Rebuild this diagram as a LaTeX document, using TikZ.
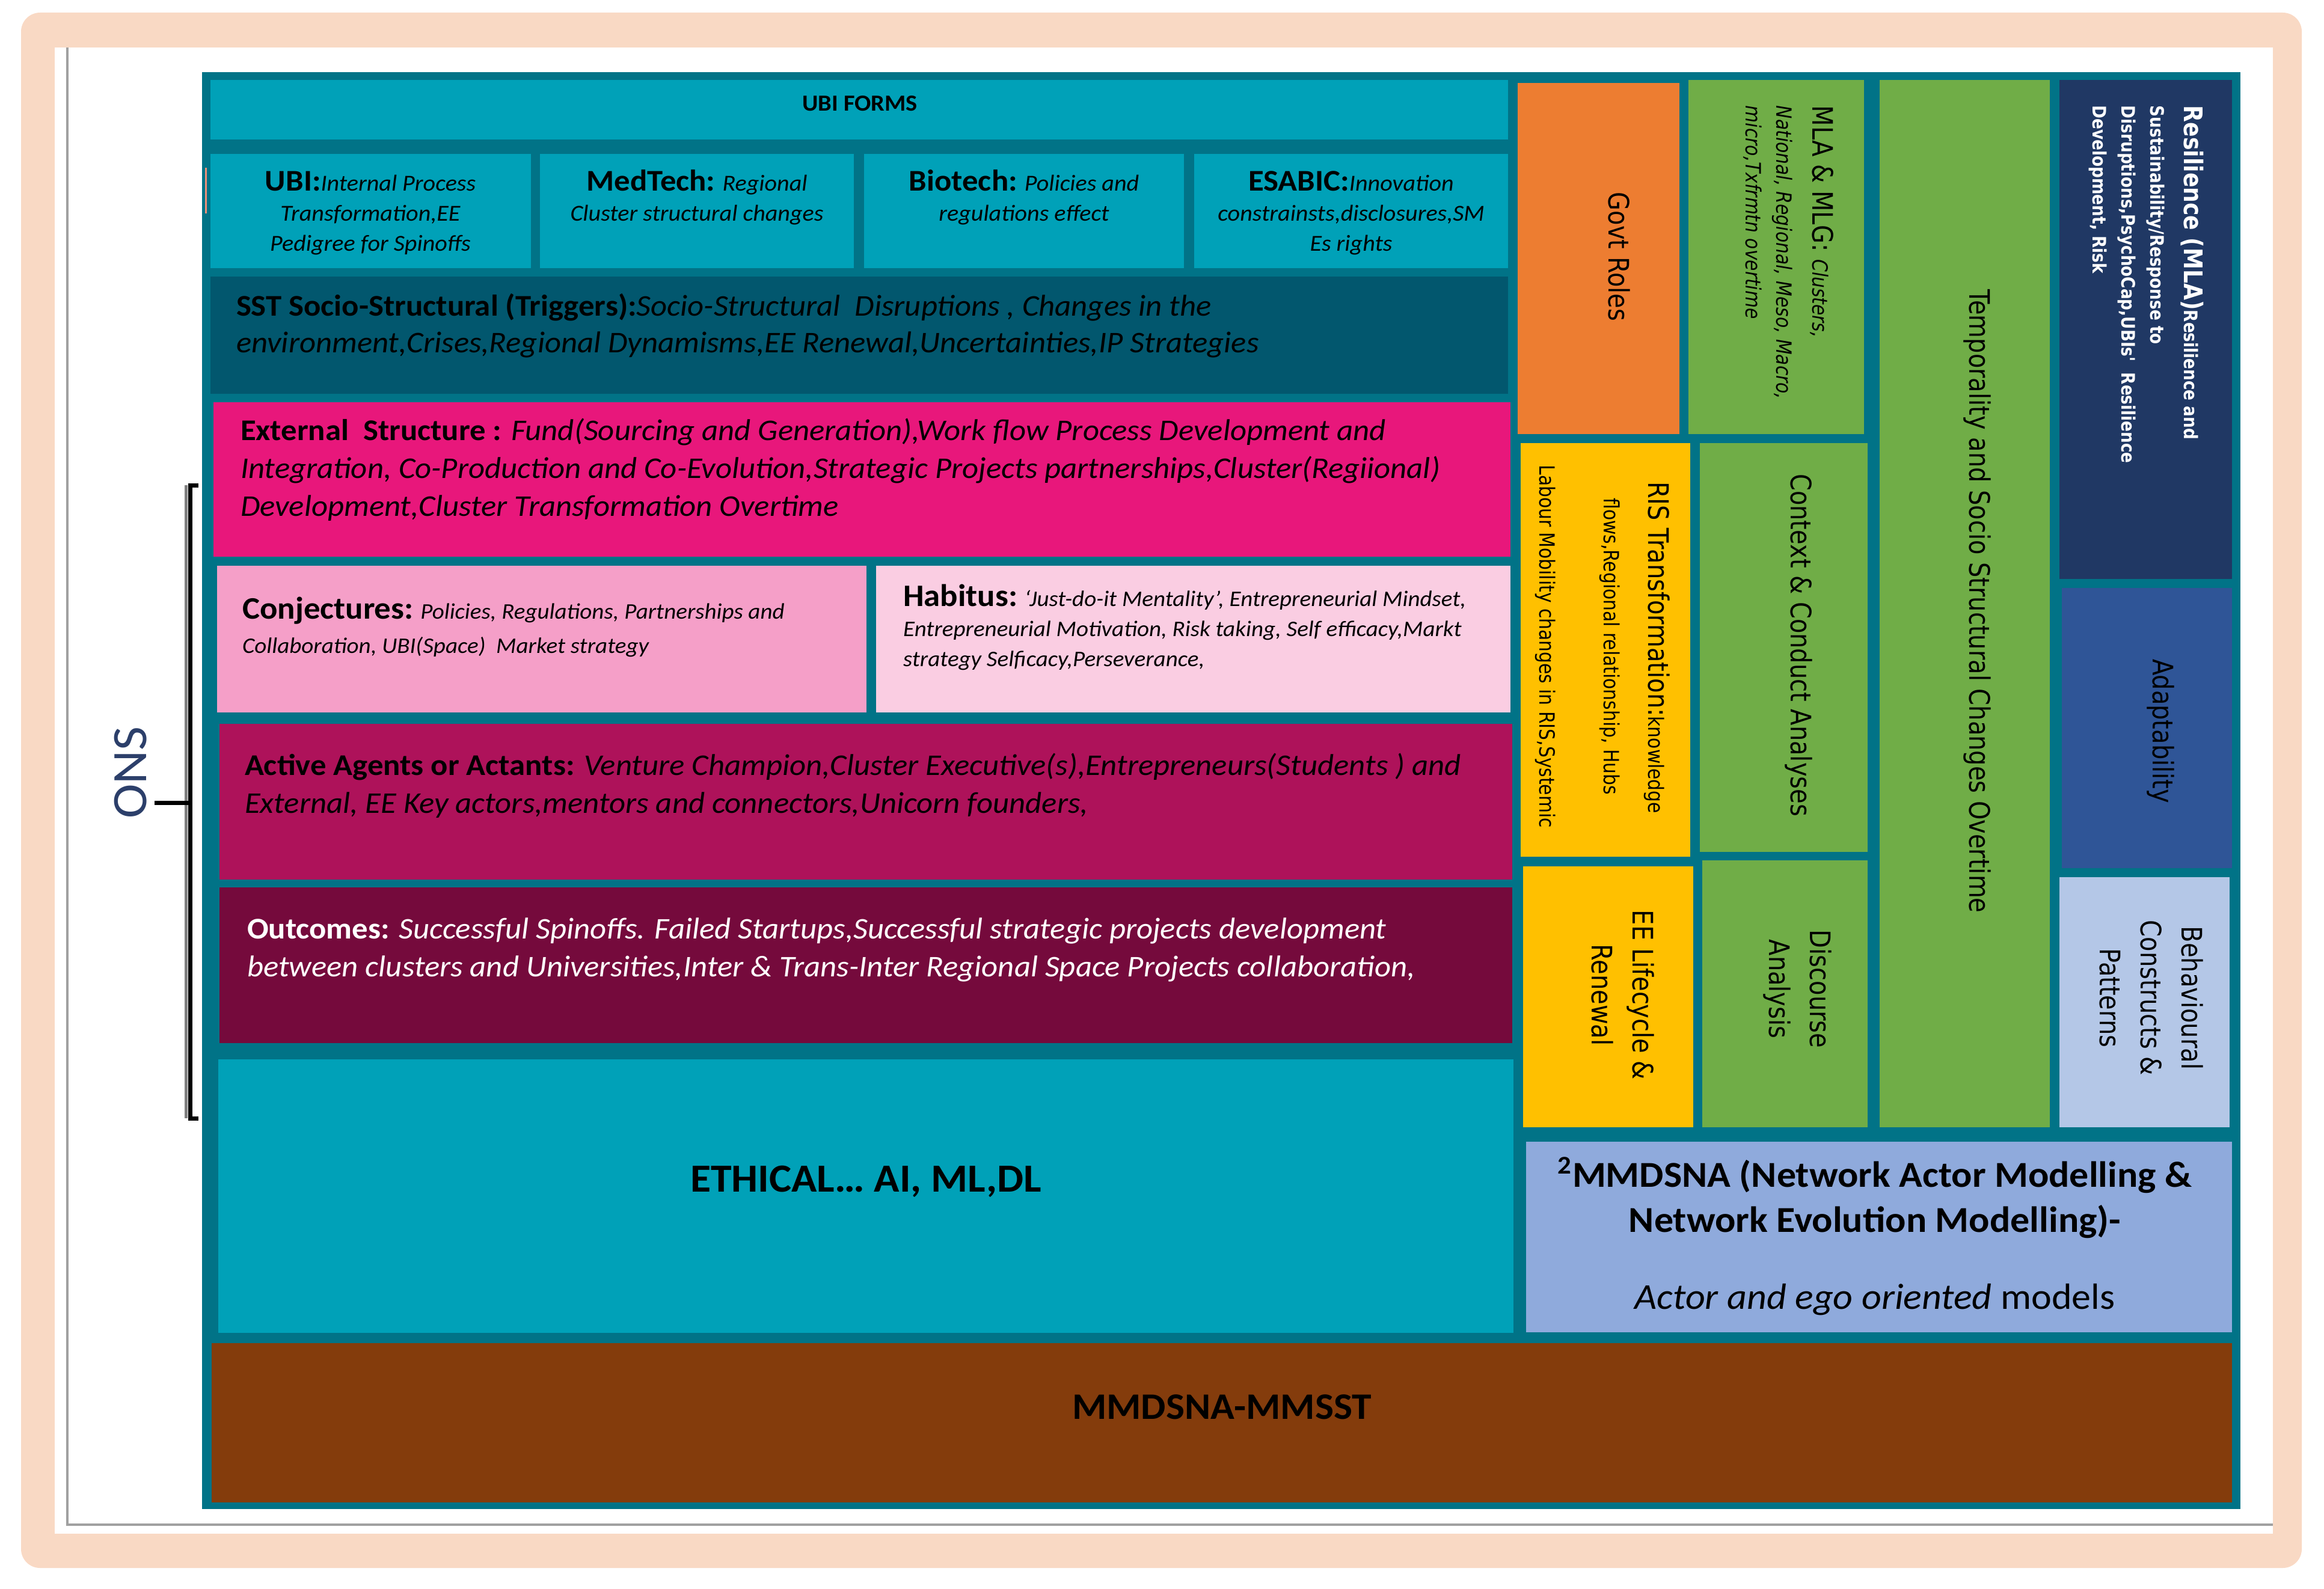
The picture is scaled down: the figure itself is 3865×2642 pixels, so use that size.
\documentclass[tikz,border=0pt]{standalone}
\usepackage{fontspec}
\setmainfont{Carlito}[FakeStretch=1.055]
\newfontfamily\rf[FakeStretch=0.85]{DejaVu Sans}
\definecolor{peach}{HTML}{F9D9C4}
\definecolor{tealbd}{HTML}{017387}
\definecolor{cyanc}{HTML}{00A1B8}
\definecolor{sstc}{HTML}{02576E}
\definecolor{pinkc}{HTML}{E8177B}
\definecolor{conjc}{HTML}{F59FC8}
\definecolor{habc}{HTML}{FACDE2}
\definecolor{actc}{HTML}{AE125A}
\definecolor{outc}{HTML}{750A3C}
\definecolor{orangec}{HTML}{ED7D31}
\definecolor{greenc}{HTML}{70AD47}
\definecolor{yellowc}{HTML}{FFC000}
\definecolor{navyc}{HTML}{203864}
\definecolor{adaptc}{HTML}{2F5597}
\definecolor{behc}{HTML}{B4C7E7}
\definecolor{mmdc}{HTML}{8FAADC}
\definecolor{brownc}{HTML}{843C0C}
\definecolor{grayl}{HTML}{A0A0A0}
\definecolor{onsc}{HTML}{2C3F6A}
\definecolor{salmon}{HTML}{F0907A}
\begin{document}
\begin{tikzpicture}[x=0.1mm,y=-0.1mm,
  every node/.style={inner sep=0pt, outer sep=0pt},
  bigtxt/.style={align=left, anchor=north west, font=\itshape\fontsize{14.23}{17.93}\selectfont},
  midtxt/.style={align=left, anchor=north west, font=\itshape\fontsize{10.53}{16.22}\selectfont},
  celltxt/.style={align=center, anchor=north, font=\itshape\fontsize{10.81}{14.23}\selectfont},
  rot/.style={rotate=-90},
  rfont/.style={font=\rf\fontsize{13.37}{19.35}\selectfont},
  rsmall/.style={font=\rf\itshape\fontsize{9.96}{12}\selectfont},
  rwhite/.style={font=\rf\bfseries\fontsize{8.8}{10}\selectfont, text=white}]
\useasboundingbox (0,0) rectangle (3865,2642);
% frame
\fill[peach, rounded corners=9pt] (35,21) rectangle (3828,2608);
\fill[white] (91,79) rectangle (3780,2551);
\draw[grayl, line width=0.35mm] (112,79) -- (112,2536) -- (3780,2536);
% main block backing
\fill[tealbd] (336,120) rectangle (3726,2510);
% left column cells
\fill[cyanc] (350,133) rectangle (2508,232);
\fill[cyanc] (350,256) rectangle (883,446);
\fill[cyanc] (898,256) rectangle (1420,446);
\fill[cyanc] (1437,256) rectangle (1969,446);
\fill[cyanc] (1986,256) rectangle (2508,446);
\draw[salmon, line width=0.3mm] (342,279) -- (342,355);
\fill[sstc] (350,460) rectangle (2508,655);
\fill[pinkc] (355,669) rectangle (2512,926);
\fill[conjc] (361,941) rectangle (1441,1185);
\fill[habc] (1457,941) rectangle (2512,1185);
\fill[actc] (365,1204) rectangle (2515,1463);
\fill[outc] (365,1476) rectangle (2515,1735);
\fill[cyanc] (363,1762) rectangle (2517,2217);
% right columns
\fill[orangec] (2524,138) rectangle (2793,722);
\fill[greenc] (2808,133) rectangle (3100,722);
\fill[greenc] (3126,133) rectangle (3409,1875);
\fill[navyc] (3425,133) rectangle (3712,963);
\fill[yellowc] (2529,737) rectangle (2811,1425);
\fill[greenc] (2827,737) rectangle (3106,1417);
\fill[adaptc] (3429,978) rectangle (3712,1444);
\fill[yellowc] (2533,1441) rectangle (2816,1875);
\fill[greenc] (2831,1431) rectangle (3106,1875);
\fill[behc] (3425,1459) rectangle (3708,1875);
\fill[mmdc] (2538,1899) rectangle (3712,2216);
\fill[brownc] (352,2234) rectangle (3712,2499);
% bracket and ONS
\draw[gray, line width=0.5mm] (309,807) -- (309,1860);
\draw[black, line width=0.7mm] (330,807) -- (316,807) -- (316,1860) -- (330,1860);
\coordinate (brmid) at (316,1335);
\coordinate (brend) at (257,1335);
\draw[black, line width=0.7mm] (brmid) -- (brend);
\node[rotate=90, anchor=base, font=\fontsize{23.4}{28}\selectfont, text=onsc] (tONS) at (243,1285) {ONS};
% horizontal texts
\node[font=\bfseries\fontsize{10.9}{12}\selectfont] (tUBIF) at (1430,172) {UBI FORMS};
\node[celltxt] (tUBI) at (616,282) {\strut{\upshape\bfseries\fontsize{14.23}{14.23}\selectfont UBI:}Internal Process\\Transformation,EE\\Pedigree for Spinoffs};
\node[celltxt] (tMed) at (1159,282) {\strut{\upshape\bfseries\fontsize{14.23}{14.23}\selectfont MedTech:} Regional\\Cluster structural changes};
\node[celltxt] (tBio) at (1703,282) {\strut{\upshape\bfseries\fontsize{14.23}{14.23}\selectfont Biotech:} Policies and\\regulations effect};
\node[celltxt] (tESA) at (2247,282) {\strut{\upshape\bfseries\fontsize{14.23}{14.23}\selectfont ESABIC:}Innovation\\constrainsts,disclosures,SM\\Es rights};
\node[bigtxt, font=\itshape\fontsize{14.23}{17.36}\selectfont] (tSST) at (393,483) {\strut{\upshape\bfseries SST Socio-Structural (Triggers):}Socio-Structural\ \ Disruptions , Changes in the\\environment,Crises,Regional Dynamisms,EE Renewal,Uncertainties,IP Strategies};
\node[bigtxt] (tExt) at (400,688) {\strut{\upshape\bfseries External\ \ Structure :} Fund(Sourcing and Generation),Work flow Process Development and\\Integration, Co-Production and Co-Evolution,Strategic Projects partnerships,Cluster(Regiional)\\Development,Cluster Transformation Overtime};
\node[midtxt] (tConj) at (403,990) {\strut{\upshape\bfseries\fontsize{14.8}{16.22}\selectfont Conjectures:} Policies, Regulations, Partnerships and\\Collaboration, UBI(Space)\ \ Market strategy};
\node[midtxt, font=\itshape\fontsize{10.53}{14.23}\selectfont] (tHab) at (1502,972) {\strut{\upshape\bfseries\fontsize{14.8}{14.23}\selectfont Habitus:} `Just-do-it Mentality', Entrepreneurial Mindset,\\Entrepreneurial Motivation, Risk taking, Self efficacy,Markt\\strategy Selficacy,Perseverance,};
\node[bigtxt] (tAct) at (407,1245) {\strut{\upshape\bfseries Active Agents or Actants:} Venture Champion,Cluster Executive(s),Entrepreneurs(Students ) and\\External, EE Key actors,mentors and connectors,Unicorn founders,};
\node[bigtxt, text=white] (tOut) at (411,1517) {\strut{\upshape\bfseries Outcomes:} Successful Spinoffs. Failed Startups,Successful strategic projects development\\between clusters and Universities,Inter \& Trans-Inter Regional Space Projects collaboration,};
\node[font=\bfseries\fontsize{18.85}{22}\selectfont] (tEth) at (1440,1965) {ETHICAL… AI, ML,DL};
\node[font=\bfseries\fontsize{17.7}{20}\selectfont] (tMM) at (2032,2340) {MMDSNA-MMSST};
\node[align=center, anchor=north, font=\fontsize{17.26}{21.34}\selectfont] (tMMD) at (3118,1922) {\strut{\bfseries\textsuperscript{2}MMDSNA (Network Actor Modelling \&}\\{\bfseries Network Evolution Modelling)-}\\[15pt]{\itshape Actor and ego oriented} models};
% rotated texts
\node[rot, rfont, anchor=base] (tGovt) at (2675,427) {Govt Roles};
\node[rot, rfont, anchor=base west] (tMLA1) at (3014,176) {MLA \& MLG: {\itshape\fontsize{9.96}{12}\selectfont Clusters,}};
\node[rot, rsmall, anchor=base west] (tMLA2) at (2954,176) {National, Regional, Meso, Macro,};
\node[rot, rsmall, anchor=base west] (tMLA3) at (2903,176) {micro,Txfrmtn overtime};
\node[rot, rfont, anchor=base] (tTemp) at (3275,1000) {Temporality and Socio Structural Changes Overtime};
\node[rot, rwhite, anchor=base west] (tRes1) at (3632,176) {{\fontsize{12.1}{14}\selectfont Resilience (MLA)}Resilience and};
\node[rot, rwhite, anchor=base west] (tRes2) at (3576,176) {Sustainability/Response to};
\node[rot, rwhite, anchor=base west] (tRes3) at (3528,176) {Disruptions,PsychoCap,UBIs'\ \ Resilience};
\node[rot, rwhite, anchor=base west] (tRes4) at (3480,176) {Development, Risk};
\node[rot, rfont, anchor=base] (tAdapt) at (3580,1216) {Adaptability};
\node[rot, rfont, anchor=base] (tRIS1) at (2741,1077) {RIS Transformation:{\fontsize{9.96}{12}\selectfont knowledge}};
\node[rot, rfont, anchor=base, font=\rf\fontsize{9.96}{12}\selectfont] (tRIS2) at (2667,1075) {flows,Regional relationship, Hubs};
\node[rot, rfont, anchor=base, font=\rf\fontsize{9.96}{12}\selectfont] (tRIS3) at (2560,1075) {Labour Mobility changes in RIS,Systemic};
\node[rot, rfont, anchor=base] (tCtx) at (2978,1073) {Context \& Conduct Analyses};
\node[rot, rfont, align=center, anchor=north] (tEE) at (2763,1655) {\strut EE Lifecycle \&\\Renewal};
\node[rot, rfont, align=center, anchor=north] (tDisc) at (3058,1645) {\strut Discourse\\Analysis};
\node[rot, rfont, align=center, anchor=north] (tBeh) at (3676,1660) {\strut Behavioural\\Constructs \&\\Patterns};
\end{tikzpicture}
\end{document}
